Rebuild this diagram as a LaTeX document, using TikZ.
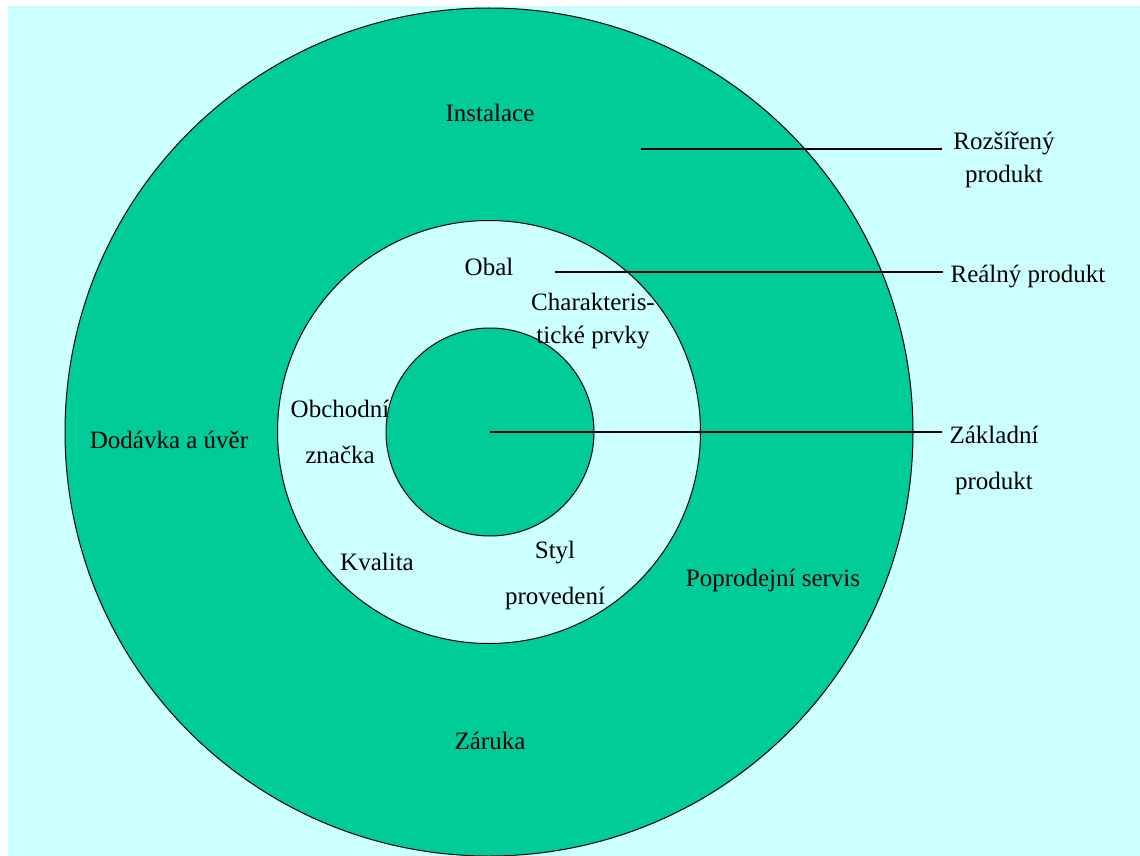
\documentclass[tikz,border=0pt]{standalone}
\usepackage{fontspec}
\setmainfont{Liberation Serif}
\usetikzlibrary{positioning}
\definecolor{ringgreen}{RGB}{0,204,153}
\definecolor{paleblue}{RGB}{204,255,255}
\tikzset{
  lbl/.style={align=center, inner sep=1pt, font=\fontsize{12.5}{16.5}\selectfont},
  widelbl/.style={lbl, font=\fontsize{12.5}{23}\selectfont},
  ring/.style={circle, draw=black, line width=0.5pt, inner sep=0pt},
  pointer/.style={line width=0.6pt}
}
\begin{document}
\begin{tikzpicture}[x=0.5pt, y=-0.5pt]
    \useasboundingbox (0,0) rectangle (1140,856);
    \fill[white] (0,0) rectangle (1140,856);
    \fill[paleblue] (8,6) rectangle (1140,856);

    % rings
    \node[ring, fill=ringgreen, minimum size=424pt] (outer) at (489,432) {};
    \node[ring, fill=paleblue, minimum size=211.5pt] (middle) at (489,432) {};
    \node[ring, fill=ringgreen, minimum size=104pt] (core) at (490,432) {};

    % outer ring
    \node[lbl] (instalace) at (490,113) {Instalace};
    \node[lbl] (dodavka) at (169,440) {Dodávka a úvěr};
    \node[lbl] (servis) at (773,580) {Poprodejní servis};
    \node[lbl] (zaruka) at (490,741) {Záruka};

    % middle ring
    \node[lbl] (obal) at (489,267) {Obal};
    \node[lbl] (prvky) at (593,321) {Charakteris-\\tické prvky};
    \node[widelbl] (znacka) at (340,432) {Obchodní\\značka};
    \node[lbl] (kvalita) at (377,562) {Kvalita};
    \node[widelbl] (styl) at (555,575) {Styl\\provedení};

    % legend
    \node[lbl] (rozsireny) at (1004,160) {Rozšířený\\produkt};
    \node[lbl] (realny) at (1028,277) {Reálný produkt};
    \node[widelbl] (zakladni) at (994,460) {Základní\\produkt};

    \coordinate (extpt) at (641,149);
    \coordinate (realpt) at (555,272);
    \draw[pointer, shorten >=4.5pt] (extpt) -- (extpt -| rozsireny.west);
    \draw[pointer, shorten >=2.5pt] (realpt) -- (realpt -| realny.west);
    \draw[pointer, shorten >=2.5pt] (core.center) -- (core.center -| zakladni.west);
\end{tikzpicture}
\end{document}
